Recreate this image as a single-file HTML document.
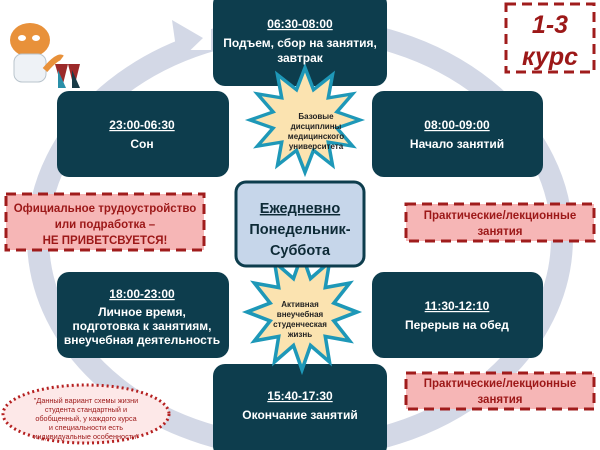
<!DOCTYPE html>
<html><head><meta charset="utf-8"><style>
body{margin:0;width:600px;height:450px;overflow:hidden;background:#fff;font-family:"Liberation Sans","DejaVu Sans",sans-serif}
svg{position:absolute;left:0;top:0}
</style></head><body>
<svg width="600" height="450" viewBox="0 0 600 450" font-family="Liberation Sans, DejaVu Sans, sans-serif">
<!-- ring -->
<ellipse cx="300" cy="238" rx="262" ry="210" fill="none" stroke="#d3d8e6" stroke-width="22"/>
<rect x="185" y="10" width="26" height="40" fill="#fff"/>
<polygon points="172,20 203,38 178,62" fill="#d3d8e6"/>
<!-- tiger placeholder -->
<ellipse cx="30" cy="40" rx="20" ry="17" fill="#e8913a"/>
<ellipse cx="22" cy="38" rx="4" ry="3" fill="#fff"/><ellipse cx="36" cy="38" rx="4" ry="3" fill="#fff"/>
<rect x="14" y="54" width="32" height="28" rx="8" fill="#eef2f6" stroke="#b9c4cc"/>
<path d="M45 70 Q58 55 62 58" stroke="#e8913a" stroke-width="6" fill="none"/>
<polygon points="55,64 62,88 68,64 74,88 80,64" fill="#9c2a2a"/>
<polygon points="58,70 66,88 58,88" fill="#2a8fa8"/><polygon points="72,70 80,88 72,88" fill="#173a46"/>
<!-- boxes -->
<g fill="#0d3d4d">
<rect x="213" y="-8" width="174" height="94" rx="12"/>
<rect x="57" y="91" width="172" height="86" rx="12"/>
<rect x="372" y="91" width="171" height="86" rx="12"/>
<rect x="57" y="272" width="172" height="86" rx="12"/>
<rect x="372" y="272" width="171" height="86" rx="12"/>
<rect x="213" y="364" width="174" height="94" rx="12"/>
</g>
<!-- stars -->
<g stroke="#1e98b8" stroke-width="3.5" fill="#fbe3b0" stroke-linejoin="miter">
<polygon transform="translate(305,120) scale(1,0.95)" points="55,0 31.9,8.5 47.6,27.5 23.3,23.3 27.5,47.6 8.5,31.9 0,55 -8.5,31.9 -27.5,47.6 -23.3,23.3 -47.6,27.5 -31.9,8.5 -55,0 -31.9,-8.5 -47.6,-27.5 -23.3,-23.3 -27.5,-47.6 -8.5,-31.9 0,-55 8.5,-31.9 27.5,-47.6 23.3,-23.3 47.6,-27.5 31.9,-8.5"/>
<polygon transform="translate(302,312) scale(1,1.05)" points="55,0 31.9,8.5 47.6,27.5 23.3,23.3 27.5,47.6 8.5,31.9 0,55 -8.5,31.9 -27.5,47.6 -23.3,23.3 -47.6,27.5 -31.9,8.5 -55,0 -31.9,-8.5 -47.6,-27.5 -23.3,-23.3 -27.5,-47.6 -8.5,-31.9 0,-55 8.5,-31.9 27.5,-47.6 23.3,-23.3 47.6,-27.5 31.9,-8.5"/>
</g>
<!-- center -->
<rect x="236" y="182" width="128" height="84" rx="10" fill="#c6d6ea" stroke="#0d3d4d" stroke-width="3"/>
<!-- dashed boxes -->
<g fill="#f6b6b6" stroke="#a01c1c" stroke-width="3" stroke-dasharray="10,6">
<rect x="6" y="194" width="198" height="56"/>
<rect x="406" y="204" width="188" height="37"/>
<rect x="406" y="373" width="188" height="36"/>
</g>
<rect x="506" y="4" width="88" height="68" fill="#fff" stroke="#a01c1c" stroke-width="3" stroke-dasharray="10,6"/>
<ellipse cx="86" cy="414" rx="83" ry="29" fill="#fde8e8" stroke="#b52020" stroke-width="3" stroke-dasharray="2,3"/>
<!-- texts -->
<g fill="#fff" font-size="12" font-weight="bold" text-anchor="middle">
<text x="300" y="28" text-decoration="underline">06:30-08:00</text>
<text x="300" y="47">Подъем, сбор на занятия,</text>
<text x="300" y="62">завтрак</text>
<text x="142" y="129" text-decoration="underline">23:00-06:30</text>
<text x="142" y="148">Сон</text>
<text x="457" y="129" text-decoration="underline">08:00-09:00</text>
<text x="457" y="148">Начало занятий</text>
<text x="142" y="298" text-decoration="underline">18:00-23:00</text>
<text x="142" y="316">Личное время,</text>
<text x="142" y="330">подготовка к занятиям,</text>
<text x="142" y="344">внеучебная деятельность</text>
<text x="457" y="310" text-decoration="underline">11:30-12:10</text>
<text x="457" y="329">Перерыв на обед</text>
<text x="300" y="400" text-decoration="underline">15:40-17:30</text>
<text x="300" y="419">Окончание занятий</text>
</g>
<g fill="#0d2a36" font-size="14.5" font-weight="bold" text-anchor="middle">
<text x="300" y="213" text-decoration="underline">Ежедневно</text>
<text x="300" y="234">Понедельник-</text>
<text x="300" y="255">Суббота</text>
</g>
<g fill="#222" font-size="8" font-weight="bold" text-anchor="middle">
<text x="316" y="119">Базовые</text><text x="316" y="129">дисциплины</text><text x="316" y="139">медицинского</text><text x="316" y="149">университета</text>
<text x="300" y="307">Активная</text><text x="300" y="317">внеучебная</text><text x="300" y="327">студенческая</text><text x="300" y="337">жизнь</text>
</g>
<g fill="#9c1818" font-size="11.5" font-weight="bold" text-anchor="middle">
<text x="105" y="212">Официальное трудоустройство</text>
<text x="105" y="228">или подработка –</text>
<text x="105" y="244">НЕ ПРИВЕТСВУЕТСЯ!</text>
<text x="500" y="219">Практические/лекционные</text>
<text x="500" y="235">занятия</text>
<text x="500" y="387">Практические/лекционные</text>
<text x="500" y="403">занятия</text>
</g>
<g fill="#9c1818" font-size="25" font-weight="bold" font-style="italic" text-anchor="middle">
<text x="550" y="33">1-3</text><text x="550" y="65">курс</text>
</g>
<g fill="#9c1818" font-size="7.3" text-anchor="middle">
<text x="86" y="403">"Данный вариант схемы жизни</text>
<text x="86" y="412">студента стандартный и</text>
<text x="86" y="421">обобщенный, у каждого курса</text>
<text x="86" y="430">и специальности есть</text>
<text x="86" y="439">индивидуальные особенности"</text>
</g>
</svg>
</body></html>
